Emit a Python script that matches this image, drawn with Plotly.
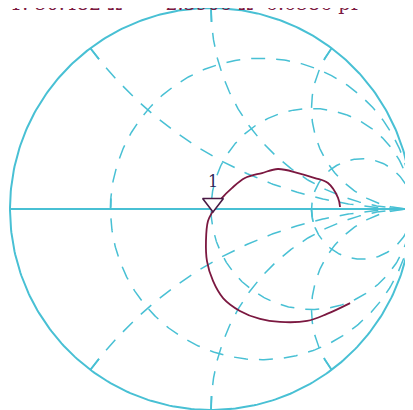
import numpy as np
import plotly.graph_objects as go

gamma_re = [0.642, 0.632, 0.582, 0.517, 0.433, 0.333, 0.254, 0.169, 0.104, 0.055,
            0.010, -0.015, -0.025, -0.020, 0.010, 0.060, 0.144, 0.244, 0.343,
            0.478, 0.577, 0.692]
gamma_im = [0.010, 0.055, 0.129, 0.154, 0.179, 0.199, 0.179, 0.154, 0.104, 0.055,
            -0.010, -0.060, -0.159, -0.259, -0.358, -0.443, -0.507, -0.547, -0.562,
            -0.557, -0.522, -0.468]

marker_re = [0.010]
marker_im = [0.030]
marker_label = ["1"]

# smith chart graticule: constant resistance circles and reactance arcs
r_grid = [1 / 3, 1, 3]
x_grid = [0.5, 1, 2, -0.5, -1, -2]

header = ("1:&nbsp;50.482&nbsp;Ω&nbsp;&nbsp;&nbsp;&nbsp;&nbsp;&nbsp;-2.3906&nbsp;Ω"
          "&nbsp;&nbsp;6.6586&nbsp;pF")

cyan = "#48c0d4"
wine = "#7b1840"
dash = "14px,11px"


def gamma(z):
    return (z - 1) / (z + 1)


fig = go.Figure()

# outer circle (|gamma| = 1)
t = np.linspace(0, 2 * np.pi, 400)
fig.add_trace(go.Scatter(x=np.cos(t), y=np.sin(t), mode="lines",
                         line=dict(color=cyan, width=2), hoverinfo="skip"))
# real axis
fig.add_trace(go.Scatter(x=[-1, 1], y=[0, 0], mode="lines",
                         line=dict(color=cyan, width=2), hoverinfo="skip"))

# resistance circles
for r in r_grid:
    g = gamma(r + 1j * np.tan(np.linspace(-np.pi / 2 + 1e-4, np.pi / 2 - 1e-4, 600)))
    fig.add_trace(go.Scatter(x=g.real, y=g.imag, mode="lines",
                             line=dict(color=cyan, width=1.5, dash=dash), hoverinfo="skip"))

# reactance arcs
rr = np.concatenate([[0], np.logspace(-3, 3.5, 600)])
for xv in x_grid:
    g = gamma(rr + 1j * xv)
    fig.add_trace(go.Scatter(x=g.real, y=g.imag, mode="lines",
                             line=dict(color=cyan, width=1.5, dash=dash), hoverinfo="skip"))
    # solid tick where the arc meets the outer circle
    tick = g[np.abs(g - g[0]) < 0.07]
    fig.add_trace(go.Scatter(x=tick.real, y=tick.imag, mode="lines",
                             line=dict(color=cyan, width=1.8), hoverinfo="skip"))

# ticks on the real axis
for r, sign in [(r_grid[0], 1), (r_grid[2], -1)]:
    g = gamma(r + 1j * sign * np.linspace(0, 0.6, 40))
    g = g[np.abs(g - g[0]) < 0.065]
    fig.add_trace(go.Scatter(x=g.real, y=g.imag, mode="lines",
                             line=dict(color=cyan, width=1.8), hoverinfo="skip"))

# measured trace
fig.add_trace(go.Scatter(x=gamma_re, y=gamma_im, mode="lines",
                         line=dict(color=wine, width=1.8, shape="spline"), hoverinfo="skip"))
# marker 1
fig.add_trace(go.Scatter(x=marker_re, y=marker_im, mode="markers+text",
                         text=marker_label, textposition="top center",
                         textfont=dict(color="#2c2456", size=16, family="DejaVu Serif"),
                         marker=dict(symbol="triangle-down", size=18, color="white",
                                     line=dict(color="#4a1a44", width=1.6)),
                         hoverinfo="skip"))

# page body adds 8 px, so the figure is 405 x 402 with the chart centre at (203, 201)
W, H = 405, 402
R, cx, cy = 201, 203, 201
fig.update_xaxes(range=[-cx / R, (W - cx) / R], visible=False, fixedrange=True)
fig.update_yaxes(range=[-(H - cy) / R, cy / R], visible=False, fixedrange=True)

fig.update_layout(
    width=W, height=H,
    margin=dict(l=0, r=0, t=0, b=0, autoexpand=False),
    paper_bgcolor="white", plot_bgcolor="white",
    showlegend=False,
    annotations=[dict(text=header, xref="paper", yref="paper", x=0.0, y=1.0,
                      xanchor="left", yanchor="bottom", yshift=-8, showarrow=False,
                      font=dict(color=wine, size=19, family="DejaVu Serif"))],
)

fig.write_html("out.html")
